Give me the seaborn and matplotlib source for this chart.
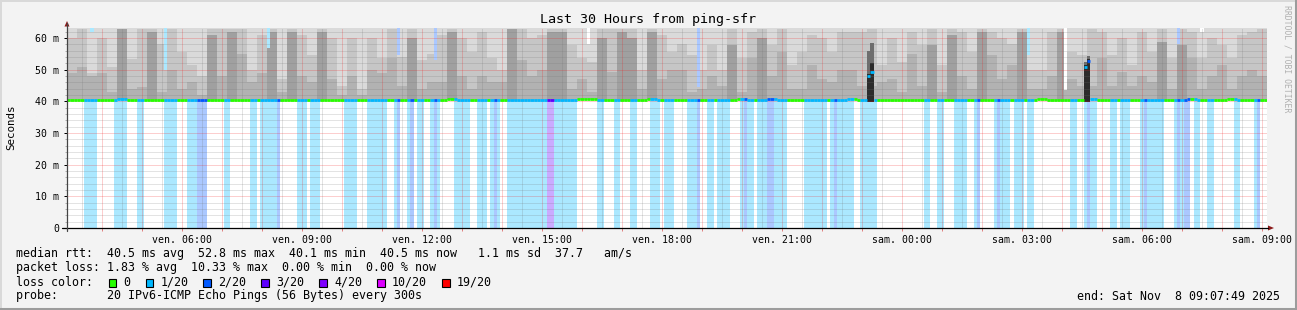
import matplotlib
matplotlib.use("Agg")
import numpy as np
import pandas as pd
import matplotlib.pyplot as plt
from matplotlib.lines import Line2D
from matplotlib.patches import Rectangle, Polygon
import seaborn as sns

# ---------------- data ----------------
# loss per 5-minute step (0..4 = n/20 lost), one row per hour (12 steps)
loss_rows = [
    "000001111000", "001111000110", "000001111000", "111222000001",
    "100000011011", "111200000111", "011100000001", "111000111111",
    "001200120110", "012100001111", "100111012100", "111111111111",
    "331111111000", "000110001100", "011000011101", "110000111200",
    "110111100012", "110111221111", "000001111111", "012111110011",
    "111000000000", "000001100110", "001111001200", "001211101110",
    "110000000000", "011001211000", "011011100012", "111110001212",
    "201100110000", "001100001200",
]

# median rtt (ms) per 15-minute bin
median_bins = [
    40.4, 40.4, 40.3, 40.4, 40.4, 40.6, 40.4, 40.4, 40.5, 40.4,
    40.4, 40.4, 40.3, 40.3, 40.4, 40.4, 40.5, 40.5, 40.4, 40.4,
    40.4, 40.5, 40.4, 40.4, 40.3, 40.4, 40.4, 40.4, 40.4, 40.3,
    40.4, 40.4, 40.3, 40.3, 40.4, 40.4, 40.5, 40.4, 40.6, 40.4,
    40.3, 40.4, 40.3, 40.5, 40.4, 40.4, 40.4, 40.5, 40.3, 40.4,
    40.4, 40.6, 40.6, 40.5, 40.4, 40.5, 40.4, 40.4, 40.6, 40.4,
    40.4, 40.5, 40.4, 40.4, 40.5, 40.4, 40.5, 40.6, 40.4, 40.5,
    40.6, 40.4, 40.5, 40.5, 40.4, 40.3, 40.4, 40.5, 40.6, 40.4,
    40.4, 40.3, 40.4, 40.4, 40.5, 40.4, 40.4, 40.4, 40.4, 40.4,
    40.5, 40.5, 40.4, 40.4, 40.4, 40.4, 40.5, 40.6, 40.4, 40.3,
    40.4, 40.4, 40.6, 40.5, 40.4, 40.4, 40.4, 40.4, 40.4, 40.3,
    40.3, 40.5, 40.6, 40.4, 40.5, 40.5, 40.6, 40.4, 40.3, 40.4,
]

# smoke: upper edge (ms) of the middle and the dark smoke layer per 15-minute bin
smoke_mid = [
    60, 63, 49, 60, 51, 63, 53.5, 63, 63, 58, 63, 55.7, 51.5, 48, 63, 63, 63, 63, 50, 61,
    63, 47, 63, 61, 54.6, 63, 60, 45, 60, 44, 60, 53.6, 63, 54, 63, 53, 55, 61, 63, 60,
    55.7, 62, 53.6, 50, 63, 63, 60, 61, 63, 63, 57.8, 53.6, 52.5, 63, 63, 63, 63, 50, 63, 61,
    55.7, 58, 54.6, 50, 57.8, 50, 63, 53.6, 62, 63, 57.8, 63, 51.5, 55.7, 61, 60, 55.7, 62, 62, 62,
    63, 51.5, 60, 52.5, 62, 57.8, 63, 51.5, 63, 62, 55.7, 63, 62, 60, 58, 63, 50, 50, 62, 63,
    55.7, 54.6, 63, 62, 54.6, 60, 51.5, 62, 55.7, 63, 53.6, 63, 62, 53.6, 60, 57.8, 53.6, 61, 62, 63,
]
smoke_dark = [
    49, 51, 48, 49, 43, 63, 44, 44.6, 62, 43, 50, 44, 46, 42, 61, 48, 62, 55, 46, 49,
    62, 43, 62, 48, 46, 62, 47, 42, 48, 42, 50, 49, 53.6, 45, 60, 44, 46, 46, 62, 48,
    44, 48, 46, 46, 63, 53, 48, 50, 62, 62, 44, 47, 43, 60, 49.4, 62, 60, 44, 62, 47,
    50, 50, 43, 44, 48, 45, 57.8, 43, 53.6, 60, 48, 55.7, 44, 44, 51.5, 47, 46, 50, 50, 45,
    45, 46, 47, 43, 55, 45, 57.8, 43, 61, 48, 44, 62, 54.6, 47, 51.5, 62, 44, 44, 48, 62,
    47, 45, 45, 53.6, 45, 49.4, 45, 48, 46, 58.8, 44, 57.8, 53.6, 44, 48, 51.5, 44, 48, 50, 48,
]

# steps whose highest ping stays below the top of the graph
gap_steps = [7, 29, 60, 99, 110, 156, 189, 288, 299, 333, 340]
gap_tops = [62, 50, 57, 54.6, 53, 58, 44.6, 54.6, 43.5, 58, 62]

# latency spikes
spike_steps = [240, 241, 305, 306]
spike_median = [48.0, 49.3, 51.0, 52.8]
spike_dark_top = [48.5, 52.0, 51.5, 53.3]
spike_haze_top = [56.0, 58.5, 52.3, 54.3]

x_labels = ["ven. 06:00", "ven. 09:00", "ven. 12:00", "ven. 15:00", "ven. 18:00",
            "ven. 21:00", "sam. 00:00", "sam. 03:00", "sam. 06:00", "sam. 09:00"]
y_values = [0, 10, 20, 30, 40, 50, 60]
y_labels = ["0", "10 m", "20 m", "30 m", "40 m", "50 m", "60 m"]

legend_labels = ["0", "1/20", "2/20", "3/20", "4/20", "10/20", "19/20"]
legend_colors = ["#26ff00", "#00b8ff", "#0059ff", "#5e00ff", "#7e00ff", "#dd00ff", "#ff0000"]

title = "Last 30 Hours from ping-sfr"
stat_lines = [
    "median rtt:  40.5 ms avg  52.8 ms max  40.1 ms min  40.5 ms now   1.1 ms sd  37.7   am/s",
    "packet loss: 1.83 % avg  10.33 % max  0.00 % min  0.00 % now",
    "loss color:",
    "probe:       20 IPv6-ICMP Echo Pings (56 Bytes) every 300s",
]
end_text = "end: Sat Nov  8 09:07:49 2025"

# ---------------- layout ----------------
W, H = 1297, 310
HOURS = 30
STEP_H = 1 / 12
Y_TOP = 63.16
FIRST_HOUR = 52.2 / 60.0      # 04:00 after start 03:07:49

def fx(x):
    return x / W

def fy(y):
    return 1 - y / H

sns.set_theme(style="white")
plt.rcParams["font.family"] = ["DejaVu Sans Mono", "DejaVu Sans"]

fig = plt.figure(figsize=(W / 100, H / 100), dpi=100, facecolor="#f3f3f3")
ax = fig.add_axes([fx(67), fy(228), 1200 / W, 200 / H])
ax.set_facecolor("white")

loss = np.array([int(c) for c in "".join(loss_rows)])
n = len(loss)
steps = np.arange(n)
df = pd.DataFrame({"step": steps, "loss": loss})
df["t0"] = df["step"] * STEP_H
df["tc"] = df["t0"] + STEP_H / 2
df["bin"] = df["step"] // 3
df["median"] = np.array(median_bins)[df["bin"].to_numpy()]
df.loc[df.step.isin(spike_steps), "median"] = spike_median
df["top"] = Y_TOP + 2
df.loc[df.step.isin(gap_steps), "top"] = gap_tops
df["mid"] = np.minimum(np.array(smoke_mid)[df["bin"].to_numpy()], df["top"])
df["dark"] = np.minimum(np.array(smoke_dark)[df["bin"].to_numpy()], df["top"])

def light(c, a=0.33):
    r, g, b = matplotlib.colors.to_rgb(c)
    return (1 - a * (1 - r), 1 - a * (1 - g), 1 - a * (1 - b))

# loss background bars (full height)
lossdf = df[df.loss > 0].copy()
lossdf["h"] = Y_TOP + 2
for lvl in sorted(lossdf.loss.unique()):
    sub = lossdf[lossdf.loss == lvl]
    sns.histplot(data=sub, x="tc", weights="h", bins=n, binrange=(0, HOURS),
                 color=light(legend_colors[lvl]), alpha=1, linewidth=0,
                 ax=ax, zorder=1)

# smoke layers
base = df["median"] - 0.25
for col, colr in [("top", "#dadada"), ("mid", "#c6c6c6"), ("dark", "#b2b2b2")]:
    ax.bar(df["t0"], df[col] - base, bottom=base, width=STEP_H, align="edge",
           color=colr, linewidth=0, antialiased=False, zorder=1.2)
# tall dense streaks are drawn a shade darker
streak = df[df["dark"] >= 57]
ax.bar(streak["t0"], streak["dark"] - base[streak.index], bottom=base[streak.index],
       width=STEP_H, align="edge", color="#a0a0a0", linewidth=0, antialiased=False,
       zorder=1.25)

# spikes
sp = df[df.step.isin(spike_steps)]
ax.bar(sp["t0"], np.array(spike_haze_top) - 39.8, bottom=39.8, width=STEP_H, align="edge",
       color="#6e6e6e", linewidth=0, antialiased=False, zorder=1.3)
ax.bar(sp["t0"], np.array(spike_dark_top) - 39.8, bottom=39.8, width=STEP_H, align="edge",
       color="#2c2c2c", linewidth=0, antialiased=False, zorder=1.4)

# grid (drawn over the smoke, like rrdtool)
dot = (0, (1, 1))
for v in np.arange(2, 63, 2):
    if v % 10:
        ax.axhline(v, color=(0.45, 0.45, 0.45, 0.4), lw=0.72, ls=dot, zorder=2)
for v in y_values[1:]:
    ax.axhline(v, color=(0.95, 0.1, 0.1, 0.42), lw=0.72, ls=dot, zorder=2.1)
hour_pos = FIRST_HOUR + np.arange(HOURS)
half_pos = hour_pos - 0.5
for v in half_pos[half_pos > 0]:
    ax.axvline(v, color=(0.45, 0.45, 0.45, 0.4), lw=0.72, ls=dot, zorder=2)
for v in hour_pos:
    ax.axvline(v, color=(0.95, 0.1, 0.1, 0.42), lw=0.72, ls=dot, zorder=2.1)

# median line coloured by loss
ax.hlines(df["median"], df["t0"], df["t0"] + STEP_H,
          colors=[legend_colors[k] for k in df["loss"]], lw=2.0, zorder=3)

ax.set_xlim(0, HOURS)
ax.set_ylim(0, Y_TOP)
ax.set_xlabel("")
ax.set_ylabel("")
for s in ax.spines.values():
    s.set_visible(False)

label_pos = hour_pos[2::3]
ax.set_xticks(label_pos)
ax.set_xticklabels(x_labels)
ax.set_xticks(hour_pos, minor=True)
ax.set_yticks(y_values)
ax.set_yticklabels(y_labels)
ax.set_yticks(np.arange(2, 63, 2), minor=True)
ax.tick_params(axis="x", which="major", length=2.2, width=0.72, color="#e08080",
               pad=2.5, labelsize=7.1, labelcolor="black", bottom=True)
ax.tick_params(axis="x", which="minor", length=2.2, width=0.72, color="#e08080", bottom=True)
ax.tick_params(axis="y", which="major", length=2.5, width=0.72, color="black",
               pad=3.0, labelsize=7.1, labelcolor="black", left=True)
ax.tick_params(axis="y", which="minor", length=1.5, width=0.72, color="#b0b0b0", left=True)

# axes with arrows
axis_col = "#000000"
arrow_col = "#8b1a1a"
fig.add_artist(Line2D([fx(62), fx(1268)], [fy(228), fy(228)], color=axis_col, lw=0.9))
fig.add_artist(Line2D([fx(67), fx(67)], [fy(231), fy(23)], color="#444444", lw=0.9))
fig.add_artist(Polygon([[fx(64.5), fy(26.5)], [fx(69.5), fy(26.5)], [fx(67), fy(21)]],
                       closed=True, color=arrow_col, lw=0))
fig.add_artist(Polygon([[fx(1268), fy(225.5)], [fx(1268), fy(230.5)], [fx(1274), fy(228)]],
                       closed=True, color=arrow_col, lw=0))

# texts
fig.text(fx(648), fy(19), title, ha="center", va="center", fontsize=9.6, color="black")
fig.text(fx(11), fy(127), "Seconds", ha="center", va="center", rotation=90,
         fontsize=7.8, color="black")
fig.text(fx(1287), fy(59), "RRDTOOL / TOBI OETIKER", ha="center", va="center",
         rotation=270, fontsize=5.9, color="#b0b0b0")

CH = 7.0
line_y = [254, 268, 282, 296]
for s, y in zip(stat_lines, line_y):
    fig.text(fx(16), fy(y), s, ha="left", va="center", fontsize=8.4, color="black")
fig.text(fx(1280), fy(296), end_text, ha="right", va="center", fontsize=8.4, color="black")

col = 13.24
for lab, c in zip(legend_labels, legend_colors):
    x0 = 16 + col * CH
    fig.add_artist(Rectangle((fx(x0), fy(286.5)), 7.5 / W, 7.5 / H, facecolor=c,
                             edgecolor="black", lw=0.8))
    lc = col + 2.1
    fig.text(fx(16 + lc * CH), fy(282), lab, ha="left", va="center", fontsize=8.4, color="black")
    col = lc + len(lab) + 2.17

# frame
fig.add_artist(Line2D([0, 1], [fy(0.5), fy(0.5)], color="#d9d9d9", lw=1.4))
fig.add_artist(Line2D([fx(0.5), fx(0.5)], [0, 1], color="#d9d9d9", lw=1.4))
fig.add_artist(Line2D([0, 1], [fy(309), fy(309)], color="#9c9c9c", lw=2.2))
fig.add_artist(Line2D([fx(1296), fx(1296)], [0, 1], color="#9c9c9c", lw=2.2))

fig.savefig("out.png", dpi=100, facecolor=fig.get_facecolor())
